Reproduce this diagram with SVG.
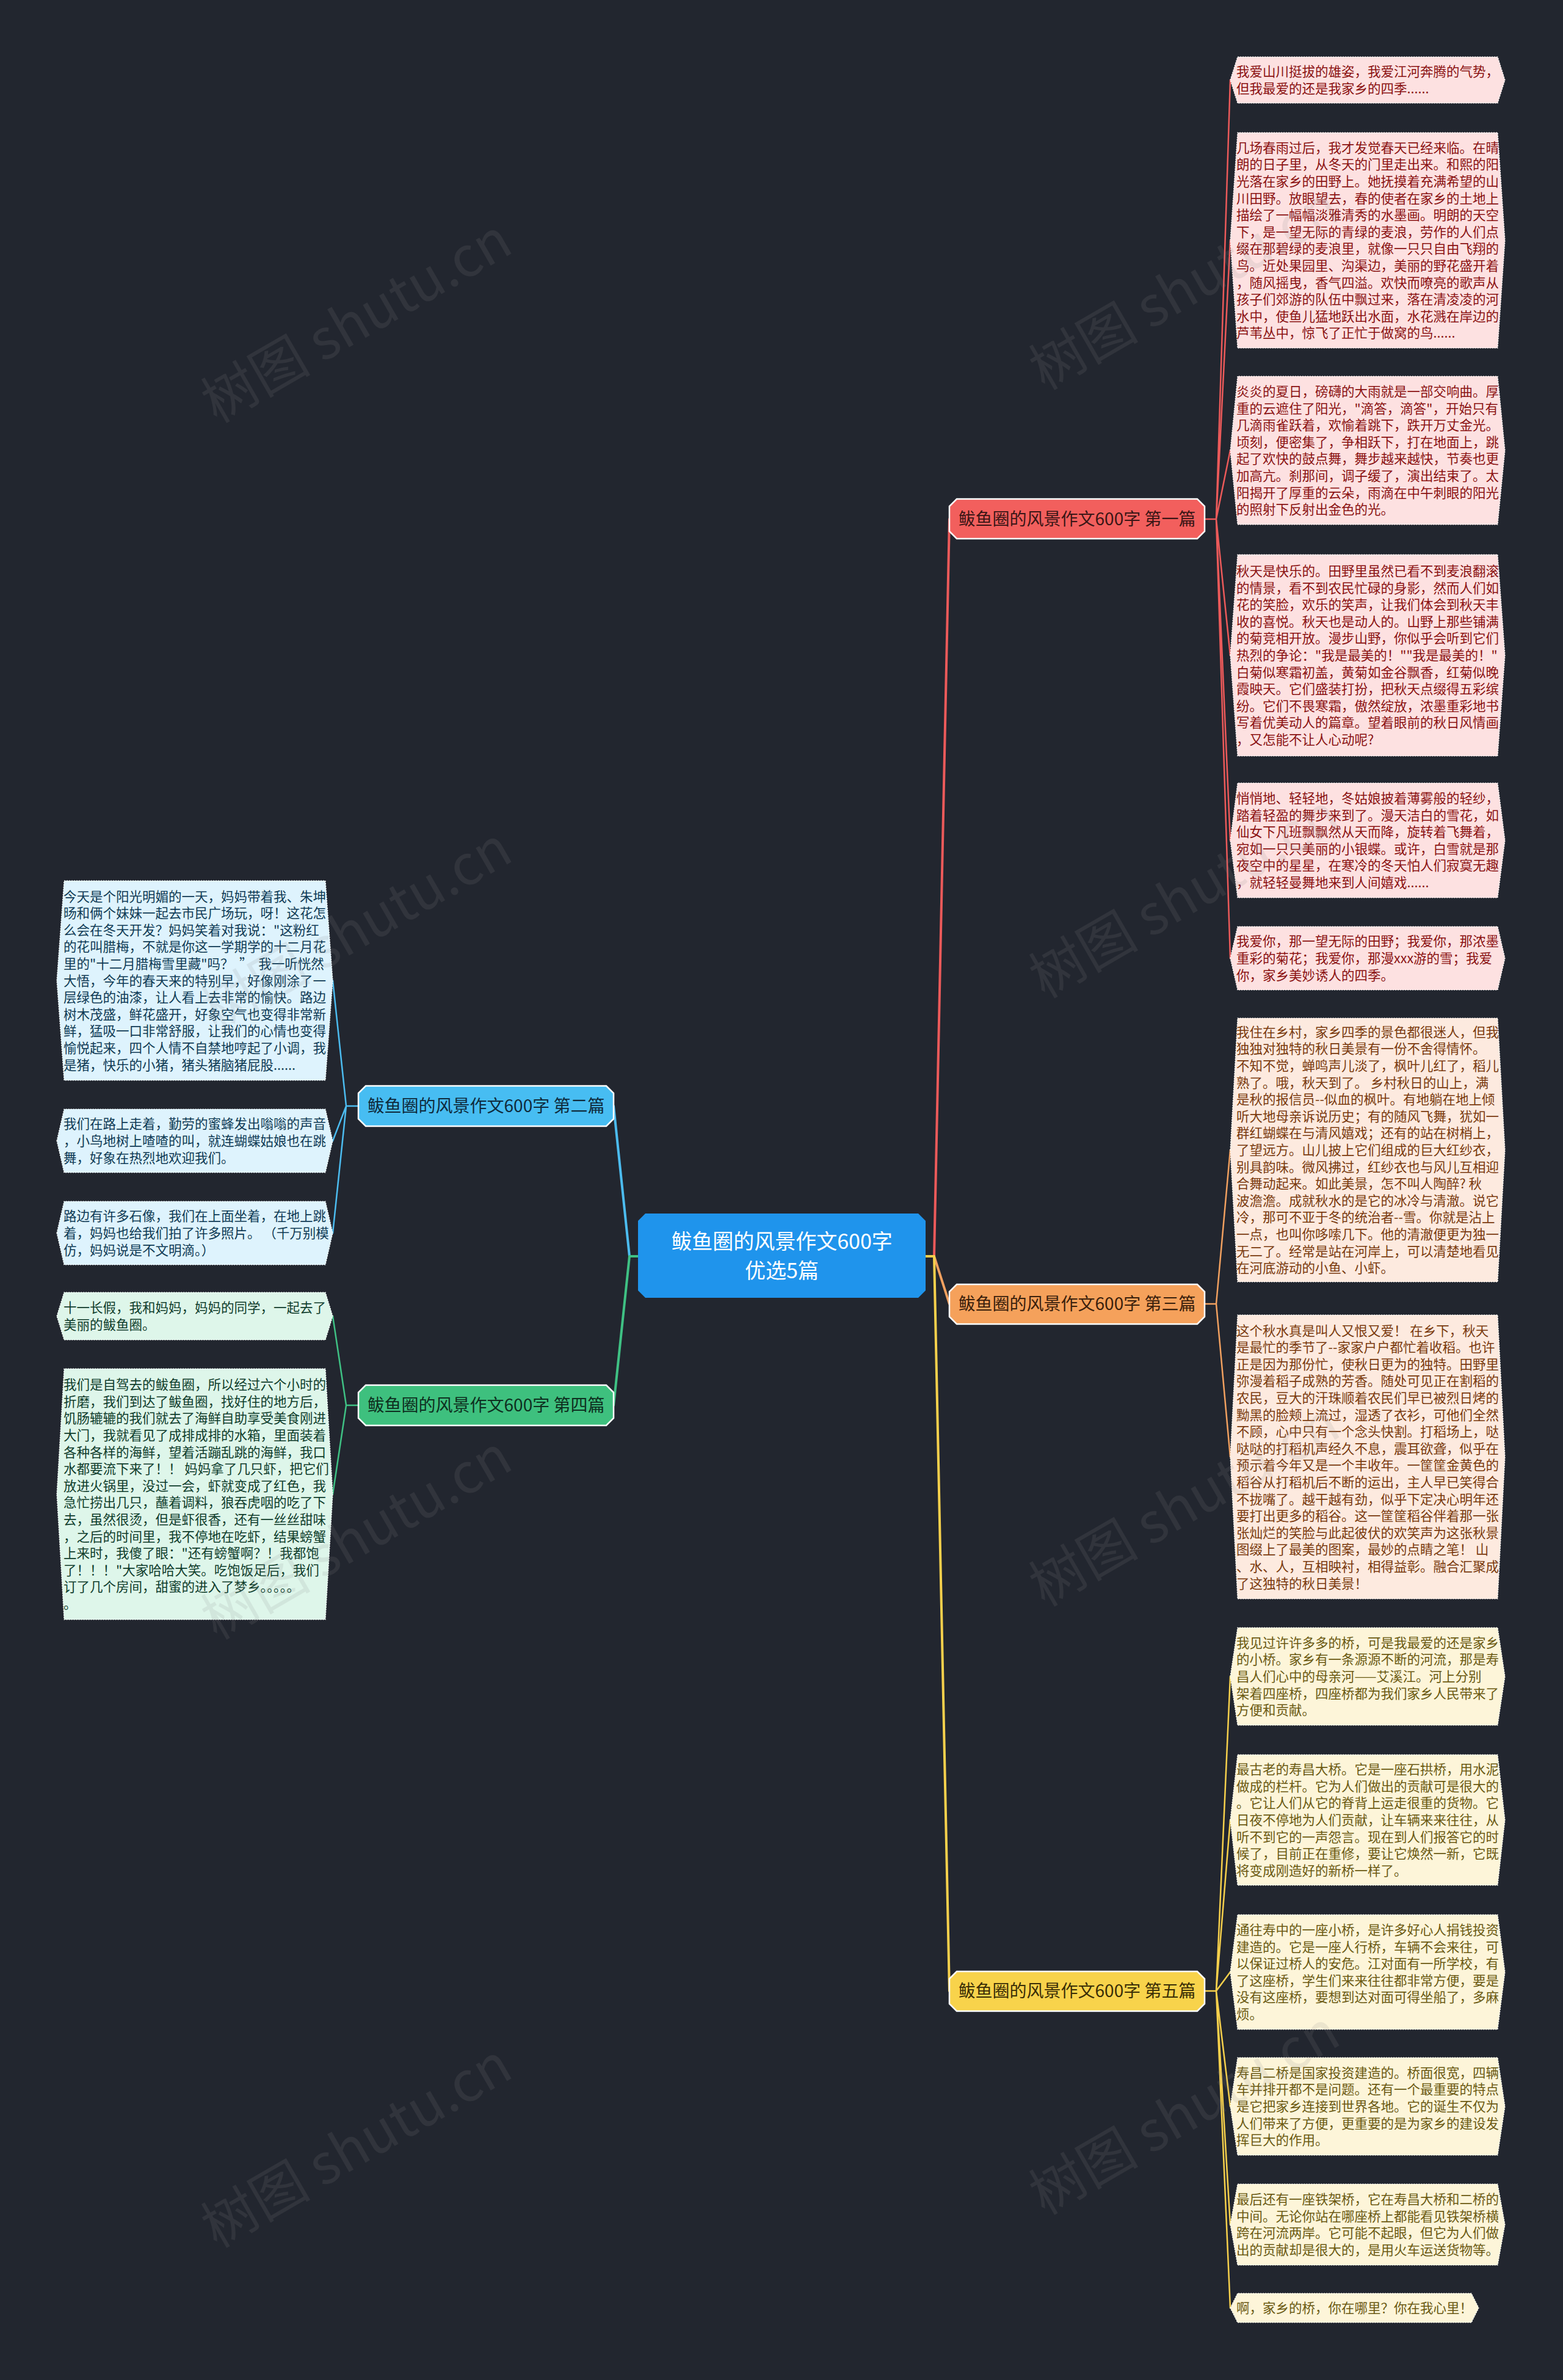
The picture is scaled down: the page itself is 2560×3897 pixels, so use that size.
<svg xmlns="http://www.w3.org/2000/svg" width="2560" height="3897" viewBox="0 0 2560 3897">
<defs>
<style>
.t{font-family:"Noto Sans CJK SC","Noto Sans",sans-serif;}
.lt{font-family:"Noto Sans CJK SC","Noto Sans",sans-serif;font-size:21.5px;white-space:pre;}
.leaf{stroke:#ffffff;stroke-width:1.2;stroke-dasharray:2 2;}
.br{stroke:#ffffff;stroke-width:2.5;}
.bt{font-family:"Noto Sans CJK SC","Noto Sans",sans-serif;font-size:28px;text-anchor:middle;}
.c{fill:none;stroke-linecap:round;stroke-linejoin:round;}
.cm{stroke-width:4;}
.cl{stroke-width:2.5;}
.red{stroke:#ec5a5a;}
.org{stroke:#f2a160;}
.yel{stroke:#f6d04c;}
.blu{stroke:#4cbcf0;}
.grn{stroke:#3fc184;}
.wm{font-family:"Noto Sans CJK SC","Noto Sans",sans-serif;font-size:90px;fill:#8a8a8a;opacity:0.14;}
</style>
</defs>
<rect width="2560" height="3897" fill="#22262f"/>

<g id="connectors">
<path class="c cm red" d="M1516 2057 H1530 L1555 850"/>
<path class="c cm org" d="M1516 2057 H1530 L1555 2135"/>
<path class="c cm yel" d="M1516 2057 H1530 L1555 3260"/>
<path class="c cm blu" d="M1045 2057 H1031 L1005 1811"/>
<path class="c cm grn" d="M1045 2057 H1031 L1005 2301"/>
<path class="c cl red" d="M1973 850 H1992 L2015 131 M1992 850 L2015 393.5 M1992 850 L2015 737.5 M1992 850 L2015 1073 M1992 850 L2015 1376 M1992 850 L2015 1569"/>
<path class="c cl org" d="M1973 2135 H1992 L2015 1883 M1992 2135 L2015 2385.5"/>
<path class="c cl yel" d="M1973 3260 H1992 L2015 2745 M1992 3260 L2015 2980 M1992 3260 L2015 3229 M1992 3260 L2015 3449 M1992 3260 L2015 3642.5 M1992 3260 L2015 3779"/>
<path class="c cl blu" d="M587 1811 H567 L545 1605.5 M567 1811 L545 1868 M567 1811 L545 2019"/>
<path class="c cl grn" d="M587 2301 H567 L545 2155 M567 2301 L545 2446.5"/>
</g>

<g id="center">
<polygon points="1057,1987 1504,1987 1516,1999 1516,2113 1504,2125 1057,2125 1045,2113 1045,1999" fill="#1f94ec"/>
<text class="t" x="1280.5" y="2045" font-size="34" fill="#ffffff" text-anchor="middle">鲅鱼圈的风景作文600字</text>
<text class="t" x="1280.5" y="2093" font-size="34" fill="#ffffff" text-anchor="middle">优选5篇</text>
</g>

<g id="branch1">
<polygon class="br" points="1567,817 1961,817 1973,829 1973,870 1961,882 1567,882 1555,870 1555,829" fill="#f25f5d"/>
<text class="bt" x="1764" y="860" fill="#3b1616">鲅鱼圈的风景作文600字 第一篇</text>
</g>
<g id="branch3">
<polygon class="br" points="1567,2103 1961,2103 1973,2115 1973,2156 1961,2168 1567,2168 1555,2156 1555,2115" fill="#f5a15b"/>
<text class="bt" x="1764" y="2145" fill="#3a200c">鲅鱼圈的风景作文600字 第三篇</text>
</g>
<g id="branch5">
<polygon class="br" points="1567,3228 1961,3228 1973,3240 1973,3281 1961,3293 1567,3293 1555,3281 1555,3240" fill="#f8d34b"/>
<text class="bt" x="1764" y="3270" fill="#3a2e06">鲅鱼圈的风景作文600字 第五篇</text>
</g>
<g id="branch2">
<polygon class="br" points="599,1778 993,1778 1005,1790 1005,1832 993,1844 599,1844 587,1832 587,1790" fill="#47bdf2"/>
<text class="bt" x="796" y="1821" fill="#0f2b3c">鲅鱼圈的风景作文600字 第二篇</text>
</g>
<g id="branch4">
<polygon class="br" points="599,2268 993,2268 1005,2280 1005,2322 993,2334 599,2334 587,2322 587,2280" fill="#3ec07e"/>
<text class="bt" x="796" y="2311" fill="#0e2f20">鲅鱼圈的风景作文600字 第四篇</text>
</g>

<g id="leaf-r1">
<polygon class="leaf" points="2015,131 2027,93 2453,93 2465,131 2453,169 2027,169" fill="#fde1e1"/>
<text class="lt" y="125.2" fill="#8b1212"><tspan x="2025">我爱山川挺拔的雄姿，我爱江河奔腾的气势，</tspan><tspan x="2025" dy="27.6">但我最爱的还是我家乡的四季......</tspan></text>
</g>
<g id="leaf-r2">
<polygon class="leaf" points="2015,393.5 2027,217 2453,217 2465,393.5 2453,570 2027,570" fill="#fde1e1"/>
<text class="lt" y="249.7" fill="#8b1212"><tspan x="2025">几场春雨过后，我才发觉春天已经来临。在晴</tspan><tspan x="2025" dy="27.6">朗的日子里，从冬天的门里走出来。和熙的阳</tspan><tspan x="2025" dy="27.6">光落在家乡的田野上。她抚摸着充满希望的山</tspan><tspan x="2025" dy="27.6">川田野。放眼望去，春的使者在家乡的土地上</tspan><tspan x="2025" dy="27.6">描绘了一幅幅淡雅清秀的水墨画。明朗的天空</tspan><tspan x="2025" dy="27.6">下，是一望无际的青绿的麦浪，劳作的人们点</tspan><tspan x="2025" dy="27.6">缀在那碧绿的麦浪里，就像一只只自由飞翔的</tspan><tspan x="2025" dy="27.6">鸟。近处果园里、沟渠边，美丽的野花盛开着</tspan><tspan x="2025" dy="27.6">，随风摇曳，香气四溢。欢快而嘹亮的歌声从</tspan><tspan x="2025" dy="27.6">孩子们郊游的队伍中飘过来，落在清凌凌的河</tspan><tspan x="2025" dy="27.6">水中，使鱼儿猛地跃出水面，水花溅在岸边的</tspan><tspan x="2025" dy="27.6">芦苇丛中，惊飞了正忙于做窝的鸟......</tspan></text>
</g>
<g id="leaf-r3">
<polygon class="leaf" points="2015,737.5 2027,616 2453,616 2465,737.5 2453,859 2027,859" fill="#fde1e1"/>
<text class="lt" y="648.9" fill="#8b1212"><tspan x="2025">炎炎的夏日，磅礴的大雨就是一部交响曲。厚</tspan><tspan x="2025" dy="27.6">重的云遮住了阳光，"滴答，滴答"，开始只有</tspan><tspan x="2025" dy="27.6">几滴雨雀跃着，欢愉着跳下，跌开万丈金光。</tspan><tspan x="2025" dy="27.6">顷刻，便密集了，争相跃下，打在地面上，跳</tspan><tspan x="2025" dy="27.6">起了欢快的鼓点舞，舞步越来越快，节奏也更</tspan><tspan x="2025" dy="27.6">加高亢。刹那间，调子缓了，演出结束了。太</tspan><tspan x="2025" dy="27.6">阳揭开了厚重的云朵，雨滴在中午刺眼的阳光</tspan><tspan x="2025" dy="27.6">的照射下反射出金色的光。</tspan></text>
</g>
<g id="leaf-r4">
<polygon class="leaf" points="2015,1073 2027,908 2453,908 2465,1073 2453,1238 2027,1238" fill="#fde1e1"/>
<text class="lt" y="943" fill="#8b1212"><tspan x="2025">秋天是快乐的。田野里虽然已看不到麦浪翻滚</tspan><tspan x="2025" dy="27.6">的情景，看不到农民忙碌的身影，然而人们如</tspan><tspan x="2025" dy="27.6">花的笑脸，欢乐的笑声，让我们体会到秋天丰</tspan><tspan x="2025" dy="27.6">收的喜悦。秋天也是动人的。山野上那些铺满</tspan><tspan x="2025" dy="27.6">的菊竞相开放。漫步山野，你似乎会听到它们</tspan><tspan x="2025" dy="27.6">热烈的争论："我是最美的！""我是最美的！"</tspan><tspan x="2025" dy="27.6">白菊似寒霜初盖，黄菊如金谷飘香，红菊似晚</tspan><tspan x="2025" dy="27.6">霞映天。它们盛装打扮，把秋天点缀得五彩缤</tspan><tspan x="2025" dy="27.6">纷。它们不畏寒霜，傲然绽放，浓墨重彩地书</tspan><tspan x="2025" dy="27.6">写着优美动人的篇章。望着眼前的秋日风情画</tspan><tspan x="2025" dy="27.6">，又怎能不让人心动呢?</tspan></text>
</g>
<g id="leaf-r5">
<polygon class="leaf" points="2015,1376 2027,1282 2453,1282 2465,1376 2453,1470 2027,1470" fill="#fde1e1"/>
<text class="lt" y="1315" fill="#8b1212"><tspan x="2025">悄悄地、轻轻地，冬姑娘披着薄雾般的轻纱，</tspan><tspan x="2025" dy="27.6">踏着轻盈的舞步来到了。漫天洁白的雪花，如</tspan><tspan x="2025" dy="27.6">仙女下凡班飘飘然从天而降，旋转着飞舞着，</tspan><tspan x="2025" dy="27.6">宛如一只只美丽的小银蝶。或许，白雪就是那</tspan><tspan x="2025" dy="27.6">夜空中的星星，在寒冷的冬天怕人们寂寞无趣</tspan><tspan x="2025" dy="27.6">，就轻轻曼舞地来到人间嬉戏......</tspan></text>
</g>
<g id="leaf-r6">
<polygon class="leaf" points="2015,1569 2027,1517 2453,1517 2465,1569 2453,1621 2027,1621" fill="#fde1e1"/>
<text class="lt" y="1549.4" fill="#8b1212"><tspan x="2025">我爱你，那一望无际的田野；我爱你，那浓墨</tspan><tspan x="2025" dy="27.6">重彩的菊花；我爱你，那漫xxx游的雪；我爱</tspan><tspan x="2025" dy="27.6">你，家乡美妙诱人的四季。</tspan></text>
</g>
<g id="leaf-r7">
<polygon class="leaf" points="2015,1883 2027,1667 2453,1667 2465,1883 2453,2099 2027,2099" fill="#fdeadf"/>
<text class="lt" y="1697.8" fill="#7a3a0e"><tspan x="2025">我住在乡村，家乡四季的景色都很迷人，但我</tspan><tspan x="2025" dy="27.6">独独对独特的秋日美景有一份不舍得情怀。</tspan><tspan x="2025" dy="27.6">不知不觉，蝉鸣声儿淡了，枫叶儿红了，稻儿</tspan><tspan x="2025" dy="27.6">熟了。哦，秋天到了。 乡村秋日的山上，满</tspan><tspan x="2025" dy="27.6">是秋的报信员--似血的枫叶。有地躺在地上倾</tspan><tspan x="2025" dy="27.6">听大地母亲诉说历史；有的随风飞舞，犹如一</tspan><tspan x="2025" dy="27.6">群红蝴蝶在与清风嬉戏；还有的站在树梢上，</tspan><tspan x="2025" dy="27.6">了望远方。山儿披上它们组成的巨大红纱衣，</tspan><tspan x="2025" dy="27.6">别具韵味。微风拂过，红纱衣也与风儿互相迎</tspan><tspan x="2025" dy="27.6">合舞动起来。如此美景，怎不叫人陶醉? 秋</tspan><tspan x="2025" dy="27.6">波澹澹。成就秋水的是它的冰冷与清澈。说它</tspan><tspan x="2025" dy="27.6">冷，那可不亚于冬的统治者--雪。你就是沾上</tspan><tspan x="2025" dy="27.6">一点，也叫你哆嗦几下。他的清澈便更为独一</tspan><tspan x="2025" dy="27.6">无二了。经常是站在河岸上，可以清楚地看见</tspan><tspan x="2025" dy="27.6">在河底游动的小鱼、小虾。</tspan></text>
</g>
<g id="leaf-r8">
<polygon class="leaf" points="2015,2385.5 2027,2153 2453,2153 2465,2385.5 2453,2618 2027,2618" fill="#fdeadf"/>
<text class="lt" y="2186.5" fill="#7a3a0e"><tspan x="2025">这个秋水真是叫人又恨又爱！ 在乡下，秋天</tspan><tspan x="2025" dy="27.6">是最忙的季节了--家家户户都忙着收稻。也许</tspan><tspan x="2025" dy="27.6">正是因为那份忙，使秋日更为的独特。田野里</tspan><tspan x="2025" dy="27.6">弥漫着稻子成熟的芳香。随处可见正在割稻的</tspan><tspan x="2025" dy="27.6">农民，豆大的汗珠顺着农民们早已被烈日烤的</tspan><tspan x="2025" dy="27.6">黝黑的脸颊上流过，湿透了衣衫，可他们全然</tspan><tspan x="2025" dy="27.6">不顾，心中只有一个念头快割。打稻场上，哒</tspan><tspan x="2025" dy="27.6">哒哒的打稻机声经久不息，震耳欲聋，似乎在</tspan><tspan x="2025" dy="27.6">预示着今年又是一个丰收年。一筐筐金黄色的</tspan><tspan x="2025" dy="27.6">稻谷从打稻机后不断的运出，主人早已笑得合</tspan><tspan x="2025" dy="27.6">不拢嘴了。越干越有劲，似乎下定决心明年还</tspan><tspan x="2025" dy="27.6">要打出更多的稻谷。这一筐筐稻谷伴着那一张</tspan><tspan x="2025" dy="27.6">张灿烂的笑脸与此起彼伏的欢笑声为这张秋景</tspan><tspan x="2025" dy="27.6">图缀上了最美的图案，最妙的点睛之笔！ 山</tspan><tspan x="2025" dy="27.6">、水、人，互相映衬，相得益彰。融合汇聚成</tspan><tspan x="2025" dy="27.6">了这独特的秋日美景！</tspan></text>
</g>
<g id="leaf-r9">
<polygon class="leaf" points="2015,2745 2027,2665 2453,2665 2465,2745 2453,2825 2027,2825" fill="#fdf5d9"/>
<text class="lt" y="2697.8" fill="#6b5a12"><tspan x="2025">我见过许许多多的桥，可是我最爱的还是家乡</tspan><tspan x="2025" dy="27.6">的小桥。家乡有一条源源不断的河流，那是寿</tspan><tspan x="2025" dy="27.6">昌人们心中的母亲河——艾溪江。河上分别</tspan><tspan x="2025" dy="27.6">架着四座桥，四座桥都为我们家乡人民带来了</tspan><tspan x="2025" dy="27.6">方便和贡献。</tspan></text>
</g>
<g id="leaf-r10">
<polygon class="leaf" points="2015,2980 2027,2873 2453,2873 2465,2980 2453,3087 2027,3087" fill="#fdf5d9"/>
<text class="lt" y="2905.2" fill="#6b5a12"><tspan x="2025">最古老的寿昌大桥。它是一座石拱桥，用水泥</tspan><tspan x="2025" dy="27.6">做成的栏杆。它为人们做出的贡献可是很大的</tspan><tspan x="2025" dy="27.6">。它让人们从它的脊背上运走很重的货物。它</tspan><tspan x="2025" dy="27.6">日夜不停地为人们贡献，让车辆来来往往，从</tspan><tspan x="2025" dy="27.6">听不到它的一声怨言。现在到人们报答它的时</tspan><tspan x="2025" dy="27.6">候了，目前正在重修，要让它焕然一新，它既</tspan><tspan x="2025" dy="27.6">将变成刚造好的新桥一样了。</tspan></text>
</g>
<g id="leaf-r11">
<polygon class="leaf" points="2015,3229 2027,3135 2453,3135 2465,3229 2453,3323 2027,3323" fill="#fdf5d9"/>
<text class="lt" y="3168" fill="#6b5a12"><tspan x="2025">通往寿中的一座小桥，是许多好心人捐钱投资</tspan><tspan x="2025" dy="27.6">建造的。它是一座人行桥，车辆不会来往，可</tspan><tspan x="2025" dy="27.6">以保证过桥人的安危。江对面有一所学校，有</tspan><tspan x="2025" dy="27.6">了这座桥，学生们来来往往都非常方便，要是</tspan><tspan x="2025" dy="27.6">没有这座桥，要想到达对面可得坐船了，多麻</tspan><tspan x="2025" dy="27.6">烦。</tspan></text>
</g>
<g id="leaf-r12">
<polygon class="leaf" points="2015,3449 2027,3369 2453,3369 2465,3449 2453,3529 2027,3529" fill="#fdf5d9"/>
<text class="lt" y="3401.8" fill="#6b5a12"><tspan x="2025">寿昌二桥是国家投资建造的。桥面很宽，四辆</tspan><tspan x="2025" dy="27.6">车并排开都不是问题。还有一个最重要的特点</tspan><tspan x="2025" dy="27.6">是它把家乡连接到世界各地。它的诞生不仅为</tspan><tspan x="2025" dy="27.6">人们带来了方便，更重要的是为家乡的建设发</tspan><tspan x="2025" dy="27.6">挥巨大的作用。</tspan></text>
</g>
<g id="leaf-r13">
<polygon class="leaf" points="2015,3642.5 2027,3576 2453,3576 2465,3642.5 2453,3709 2027,3709" fill="#fdf5d9"/>
<text class="lt" y="3609.1" fill="#6b5a12"><tspan x="2025">最后还有一座铁架桥，它在寿昌大桥和二桥的</tspan><tspan x="2025" dy="27.6">中间。无论你站在哪座桥上都能看见铁架桥横</tspan><tspan x="2025" dy="27.6">跨在河流两岸。它可能不起眼，但它为人们做</tspan><tspan x="2025" dy="27.6">出的贡献却是很大的，是用火车运送货物等。</tspan></text>
</g>
<g id="leaf-r14">
<polygon class="leaf" points="2015,3779 2027,3755 2410,3755 2422,3779 2410,3803 2027,3803" fill="#fdf5d9"/>
<text class="lt" x="2025" y="3787" fill="#6b5a12">啊，家乡的桥，你在哪里？你在我心里！</text>
</g>

<g id="leaf-l1">
<polygon class="leaf" points="93,1605.5 105,1442 533,1442 545,1605.5 533,1769 105,1769" fill="#def3fd"/>
<text class="lt" y="1475.5" fill="#0f3b55"><tspan x="104">今天是个阳光明媚的一天，妈妈带着我、朱坤</tspan><tspan x="104" dy="27.6">旸和俩个妹妹一起去市民广场玩，呀！这花怎</tspan><tspan x="104" dy="27.6">么会在冬天开发？妈妈笑着对我说："这粉红</tspan><tspan x="104" dy="27.6">的花叫腊梅，不就是你这一学期学的十二月花</tspan><tspan x="104" dy="27.6">里的"十二月腊梅雪里藏"吗？  ”  我一听恍然</tspan><tspan x="104" dy="27.6">大悟，今年的春天来的特别早，好像刚涂了一</tspan><tspan x="104" dy="27.6">层绿色的油漆，让人看上去非常的愉快。路边</tspan><tspan x="104" dy="27.6">树木茂盛，鲜花盛开，好象空气也变得非常新</tspan><tspan x="104" dy="27.6">鲜，猛吸一口非常舒服，让我们的心情也变得</tspan><tspan x="104" dy="27.6">愉悦起来，四个人情不自禁地哼起了小调，我</tspan><tspan x="104" dy="27.6">是猪，快乐的小猪，猪头猪脑猪屁股......</tspan></text>
</g>
<g id="leaf-l2">
<polygon class="leaf" points="93,1868 105,1816 533,1816 545,1868 533,1920 105,1920" fill="#def3fd"/>
<text class="lt" y="1848.4" fill="#0f3b55"><tspan x="104">我们在路上走着，勤劳的蜜蜂发出嗡嗡的声音</tspan><tspan x="104" dy="27.6">，小鸟地树上喳喳的叫，就连蝴蝶姑娘也在跳</tspan><tspan x="104" dy="27.6">舞，好象在热烈地欢迎我们。</tspan></text>
</g>
<g id="leaf-l3">
<polygon class="leaf" points="93,2019 105,1967 533,1967 545,2019 533,2071 105,2071" fill="#def3fd"/>
<text class="lt" y="1999.4" fill="#0f3b55"><tspan x="104">路边有许多石像，我们在上面坐着，在地上跳</tspan><tspan x="104" dy="27.6">着，妈妈也给我们拍了许多照片。 （千万别模</tspan><tspan x="104" dy="27.6">仿，妈妈说是不文明滴。）</tspan></text>
</g>
<g id="leaf-l4">
<polygon class="leaf" points="93,2155 105,2116 533,2116 545,2155 533,2194 105,2194" fill="#def6ea"/>
<text class="lt" y="2149.2" fill="#0f3d2c"><tspan x="104">十一长假，我和妈妈，妈妈的同学，一起去了</tspan><tspan x="104" dy="27.6">美丽的鲅鱼圈。</tspan></text>
</g>
<g id="leaf-l5">
<polygon class="leaf" points="93,2446.5 105,2241 533,2241 545,2446.5 533,2652 105,2652" fill="#def6ea"/>
<text class="lt" y="2275.1" fill="#0f3d2c"><tspan x="104">我们是自驾去的鲅鱼圈，所以经过六个小时的</tspan><tspan x="104" dy="27.6">折磨，我们到达了鲅鱼圈，找好住的地方后，</tspan><tspan x="104" dy="27.6">饥肠辘辘的我们就去了海鲜自助享受美食刚进</tspan><tspan x="104" dy="27.6">大门，我就看见了成排成排的水箱，里面装着</tspan><tspan x="104" dy="27.6">各种各样的海鲜，望着活蹦乱跳的海鲜，我口</tspan><tspan x="104" dy="27.6">水都要流下来了！！ 妈妈拿了几只虾，把它们</tspan><tspan x="104" dy="27.6">放进火锅里，没过一会，虾就变成了红色，我</tspan><tspan x="104" dy="27.6">急忙捞出几只，蘸着调料，狼吞虎咽的吃了下</tspan><tspan x="104" dy="27.6">去，虽然很烫，但是虾很香，还有一丝丝甜味</tspan><tspan x="104" dy="27.6">，之后的时间里，我不停地在吃虾，结果螃蟹</tspan><tspan x="104" dy="27.6">上来时，我傻了眼："还有螃蟹啊？！我都饱</tspan><tspan x="104" dy="27.6">了！！！"大家哈哈大笑。吃饱饭足后，我们</tspan><tspan x="104" dy="27.6">订了几个房间，甜蜜的进入了梦乡。。。。。</tspan><tspan x="104" dy="27.6">。</tspan></text>
</g>

<g id="watermark">
<text class="wm" transform="translate(355,694) rotate(-30)">树图 shutu.cn</text>
<text class="wm" transform="translate(355,1690) rotate(-30)">树图 shutu.cn</text>
<text class="wm" transform="translate(355,2686) rotate(-30)">树图 shutu.cn</text>
<text class="wm" transform="translate(355,3682) rotate(-30)">树图 shutu.cn</text>
<text class="wm" transform="translate(1711,640) rotate(-30)">树图 shutu.cn</text>
<text class="wm" transform="translate(1711,1636) rotate(-30)">树图 shutu.cn</text>
<text class="wm" transform="translate(1711,2632) rotate(-30)">树图 shutu.cn</text>
<text class="wm" transform="translate(1711,3628) rotate(-30)">树图 shutu.cn</text>
</g>
</svg>
